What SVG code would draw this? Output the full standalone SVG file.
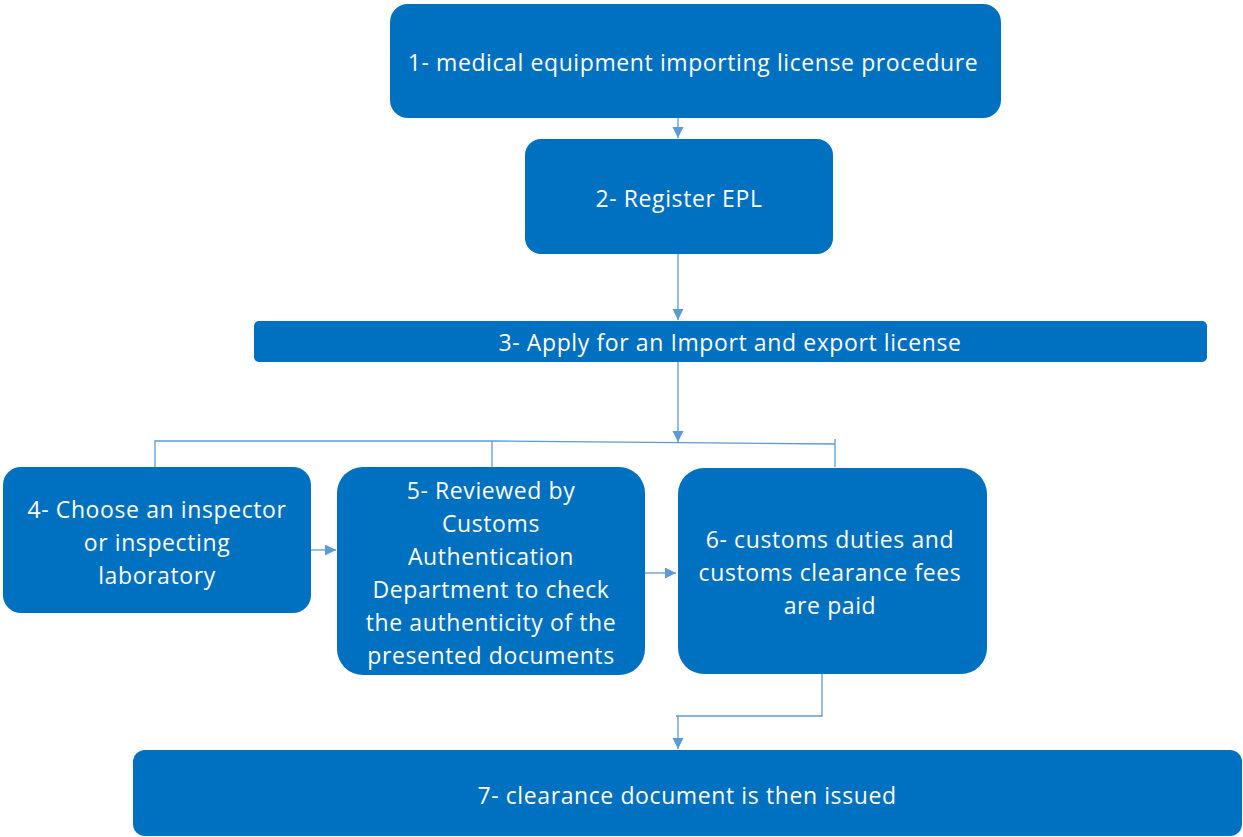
<svg xmlns="http://www.w3.org/2000/svg" width="1243" height="837" viewBox="0 0 1243 837">
<defs>
<marker id="ah" markerWidth="12" markerHeight="12" refX="11" refY="5.5" orient="auto" markerUnits="userSpaceOnUse">
<path d="M0,0 L11,5.5 L0,11 Z" fill="#5B9BD5"/>
</marker>
<style>
.box{fill:#0070C0;}
.t{fill:#FFFFFF;font-family:"Open Sans","Liberation Sans",sans-serif;font-size:23px;letter-spacing:0.6px;text-anchor:middle;dominant-baseline:central;}
.c{fill:none;stroke:#5B9BD5;stroke-width:1.3;}
</style>
</defs>
<rect width="1243" height="837" fill="#FFFFFF"/>
<g id="connectors">
<line class="c" x1="678" y1="118" x2="678" y2="138" marker-end="url(#ah)"/>
<line class="c" x1="678" y1="254" x2="678" y2="320" marker-end="url(#ah)"/>
<line class="c" x1="678" y1="362" x2="678" y2="442" marker-end="url(#ah)"/>
<polyline class="c" points="155,467 155,441 492,441 835,444"/>
<line class="c" x1="492" y1="441" x2="492" y2="467"/>
<line class="c" x1="835" y1="439" x2="835" y2="467"/>
<line class="c" x1="311" y1="550" x2="336" y2="550" marker-end="url(#ah)"/>
<line class="c" x1="645" y1="573" x2="676" y2="573" marker-end="url(#ah)"/>
<polyline class="c" points="822,674 822,716 676,716"/>
<line class="c" x1="678" y1="716" x2="678" y2="749" marker-end="url(#ah)"/>
</g>
<g id="n1"><rect class="box" x="390" y="4" width="611" height="114" rx="18"/><text class="t" x="693" y="62">1- medical equipment importing license procedure</text></g>
<g id="n2"><rect class="box" x="525" y="139" width="308" height="115" rx="16"/><text class="t" x="679" y="198">2- Register EPL</text></g>
<g id="n3"><rect class="box" x="254" y="321" width="953" height="41" rx="5"/><text class="t" x="730" y="342">3- Apply for an Import and export license</text></g>
<g id="n4"><rect class="box" x="3" y="467" width="308" height="146" rx="18"/>
<text class="t" x="157" y="509">4- Choose an inspector</text>
<text class="t" x="157" y="542">or inspecting</text>
<text class="t" x="157" y="575">laboratory</text></g>
<g id="n5"><rect class="box" x="337" y="467" width="308" height="208" rx="26"/>
<text class="t" x="491" y="490">5- Reviewed by</text>
<text class="t" x="491" y="523">Customs</text>
<text class="t" x="491" y="556">Authentication</text>
<text class="t" x="491" y="589">Department to check</text>
<text class="t" x="491" y="622">the authenticity of the</text>
<text class="t" x="491" y="655">presented documents</text></g>
<g id="n6"><rect class="box" x="678" y="468" width="309" height="206" rx="26"/>
<text class="t" x="830" y="539">6- customs duties and</text>
<text class="t" x="830" y="572">customs clearance fees</text>
<text class="t" x="830" y="605">are paid</text></g>
<g id="n7"><rect class="box" x="133" y="750" width="1109" height="86" rx="12"/><text class="t" x="687" y="795">7- clearance document is then issued</text></g>
</svg>
